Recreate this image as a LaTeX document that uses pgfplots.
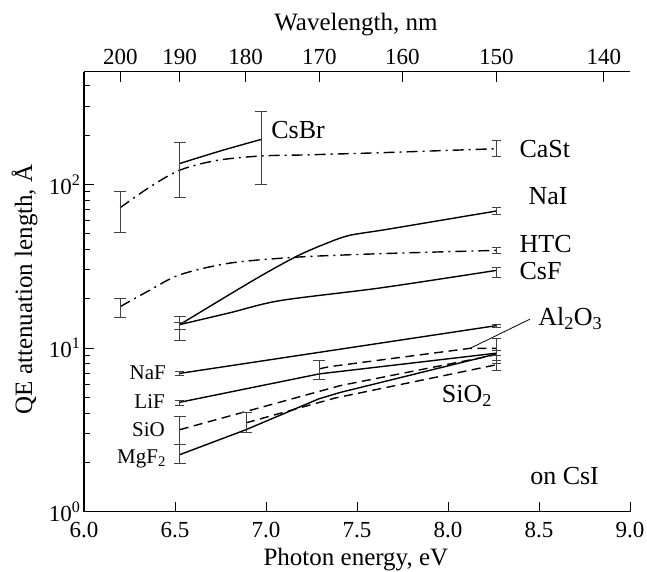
\documentclass[border=0pt]{standalone}
\usepackage{pgfplots}
\pgfplotsset{compat=1.18}
\usepackage{fontspec}
\setmainfont{Liberation Serif}
\tikzset{
  dashdotted/.style={black, line width=1.4pt, dash pattern=on 11pt off 5pt on 2pt off 5pt},
  dsh/.style={black, line width=1.4pt, dash pattern=on 9pt off 5.5pt},
  sld/.style={black, line width=1.4pt},
}
\begin{document}
\begin{tikzpicture}
\begin{axis}[
  width=546pt, height=440pt, scale only axis,
  at={(0,0)}, anchor=south west,
  xmin=6, xmax=9, ymode=log, ymin=1, ymax=487.5,
  enlargelimits=false, clip=false,
  font=\fontsize{25}{29}\selectfont,
  tick label style={font=\fontsize{23}{27}\selectfont},
  xticklabel style={yshift=-7pt},
  axis x line=bottom, axis y line=left,
  axis line style={-, line width=1.2pt},
  tick align=inside,
  major tick length=10pt, minor tick length=6pt,
  tick style={black, line width=1pt},
  xtick={6,6.5,7,7.5,8,8.5,9}, xticklabels={6.0,6.5,7.0,7.5,8.0,8.5,9.0},
  ytick={1,10,100}, yticklabels={10\textsuperscript{0},10\textsuperscript{1},10\textsuperscript{2}},
  minor ytick={2,3,4,5,6,7,8,9,20,30,40,50,60,70,80,90,200,300,400},
  xlabel={Photon energy, eV},
  xlabel style={at={(axis description cs:0.498,-0.123)}, anchor=base},
  ylabel={QE attenuation length, Å},
  ylabel style={at={(axis description cs:-0.095,0.505)}, anchor=base},
]
% CaSt
\addplot[dashdotted, smooth, tension=0.5] coordinates {(6.199,72)(6.36,96)(6.526,122)(6.73,140)(6.97,149)(7.19,151)(7.63,156)(8.266,165)};
% CsBr
\addplot[sld, smooth, tension=0.5] coordinates {(6.526,134)(6.75,160)(6.973,188)};
% HTC
\addplot[dashdotted, smooth, tension=0.5] coordinates {(6.199,17.9)(6.36,22.5)(6.526,28)(6.80,33)(7.17,35.9)(7.63,37.7)(8.266,39.5)};
% NaI
\addplot[sld, smooth, tension=0.5] coordinates {(6.526,13.9)(6.93,25.9)(7.17,36.4)(7.35,44.4)(7.46,48.8)(7.63,52.3)(7.74,54.8)(8.266,68.7)};
% CsF
\addplot[sld, smooth, tension=0.5] coordinates {(6.526,13.9)(6.80,16.4)(7.08,19.5)(7.63,23.3)(8.266,29.8)};
% NaF
\addplot[sld] coordinates {(6.526,7.0)(8.266,13.7)};
% LiF
\addplot[sld] coordinates {(6.526,4.66)(7.293,6.95)(8.266,9.3)};
% Al2O3
\addplot[dsh] coordinates {(7.293,7.46)(7.35,7.7)(8.12,9.95)(8.266,9.95)};
% SiO
\addplot[dsh] coordinates {(6.526,3.17)(7.41,5.9)(8.266,9.1)};
% MgF2
\addplot[sld] coordinates {(6.526,2.23)(6.89,3.17)(7.29,4.89)(7.41,5.36)(8.266,9.2)};
% SiO2
\addplot[dsh] coordinates {(6.89,3.49)(7.38,4.95)(8.266,7.9)};

% error bars
\addplot[forget plot, draw=none, no markers,
    error bars/.cd, y dir=both, y explicit,
    error bar style={draw=black!75, solid, line width=0.9pt},
    error mark options={rotate=90, mark size=6pt, draw=black!75, solid, line width=0.9pt}]
 coordinates {
 (6.199,72) += (0,19) -= (0,21)
 (6.199,17.9) += (0,2.1) -= (0,2.5)
 (6.526,122) += (0,59) -= (0,38.4)
 (6.973,188) += (0,89) -= (0,88.4)
 (6.526,13.9) += (0,1.7) -= (0,1.0)
 (6.526,13.0) += (0,1.4) -= (0,1.9)
 (6.526,3.17) += (0,0.66) -= (0,0.6)
 (6.526,2.23) += (0,0.33) -= (0,0.27)
 (6.89,3.5) += (0,0.52) -= (0,0.44)
 (7.293,7.2) += (0,1.17) -= (0,0.73)
};
\addplot[forget plot, draw=none, no markers,
    error bars/.cd, y dir=both, y explicit,
    error bar style={draw=black!75, solid, line width=0.9pt},
    error mark options={rotate=90, mark size=4.5pt, draw=black!75, solid, line width=0.9pt}]
 coordinates {
 (6.526,7.0) += (0,0.2) -= (0,0.2)
 (6.526,4.6) += (0,0.17) -= (0,0.15)
 (8.266,165) += (0,21) -= (0,18)
 (8.266,68.7) += (0,4) -= (0,3.7)
 (8.266,39.5) += (0,1.6) -= (0,1.6)
 (8.266,29.8) += (0,1.2) -= (0,2.8)
 (8.266,13.7) += (0,0.3) -= (0,0.3)
 (8.266,10.1) += (0,1.3) -= (0,1.1)
 (8.266,9.2) += (0,0.4) -= (0,1.2)
 (8.266,7.8) += (0,0.6) -= (0,0.5)
};

% labels
\node[anchor=west, font=\fontsize{26}{30}\selectfont] at (axis cs:7.01,214) {CsBr};
\node[anchor=west, font=\fontsize{26}{30}\selectfont] at (axis cs:8.374,165) {CaSt};
\node[anchor=west, font=\fontsize{26}{30}\selectfont] at (axis cs:8.423,84.5) {NaI};
\node[anchor=west, font=\fontsize{26}{30}\selectfont] at (axis cs:8.374,43.4) {HTC};
\node[anchor=west, font=\fontsize{26}{30}\selectfont] at (axis cs:8.374,29.4) {CsF};
\node[anchor=base west, inner sep=0pt, font=\fontsize{26}{30}\selectfont] at (axis cs:8.495,13.7) {Al\textsubscript{2}O\textsubscript{3}};
\node[anchor=base west, inner sep=0pt, font=\fontsize{26}{30}\selectfont] at (axis cs:7.965,4.66) {SiO\textsubscript{2}};
\node[anchor=base west, inner sep=0pt, font=\fontsize{26}{30}\selectfont] at (axis cs:8.451,1.46) {on CsI};
\node[anchor=base east, inner sep=0pt, font=\fontsize{21}{25}\selectfont] at (axis cs:6.451,6.44) {NaF};
\node[anchor=base east, inner sep=0pt, font=\fontsize{21}{25}\selectfont] at (axis cs:6.445,4.25) {LiF};
\node[anchor=base east, inner sep=0pt, font=\fontsize{21}{25}\selectfont] at (axis cs:6.445,2.875) {SiO};
\node[anchor=base east, inner sep=0pt, font=\fontsize{21}{25}\selectfont] at (axis cs:6.451,1.974) {MgF\textsubscript{2}};
\draw[line width=0.8pt] (axis cs:8.121,9.95) -- (axis cs:8.45,15.0);
\end{axis}
\begin{axis}[
  width=546pt, height=440pt, scale only axis,
  at={(0,0)}, anchor=south west,
  xmin=6, xmax=9, ymin=1, ymax=10,
  enlargelimits=false, clip=false,
  font=\fontsize{25}{29}\selectfont,
  tick label style={font=\fontsize{23}{27}\selectfont},
  xticklabel style={yshift=3pt},
  axis x line=top, axis y line=none,
  axis line style={-, line width=1.2pt},
  tick align=inside, major tick length=10pt,
  tick style={black, line width=1pt},
  xtick={6.1992,6.5255,6.888,7.2932,7.749,8.2656,8.856},
  xticklabels={200,190,180,170,160,150,140},
  ytick=\empty,
  xlabel={Wavelength, nm},
  xlabel style={at={(axis description cs:0.498,1.093)}, anchor=base},
]
\addplot[draw=none] coordinates {(7,5)};
\end{axis}
\pgfresetboundingbox
\path[use as bounding box] (-84pt,-60.3pt) rectangle (563pt,511.7pt);
\end{tikzpicture}
\end{document}
